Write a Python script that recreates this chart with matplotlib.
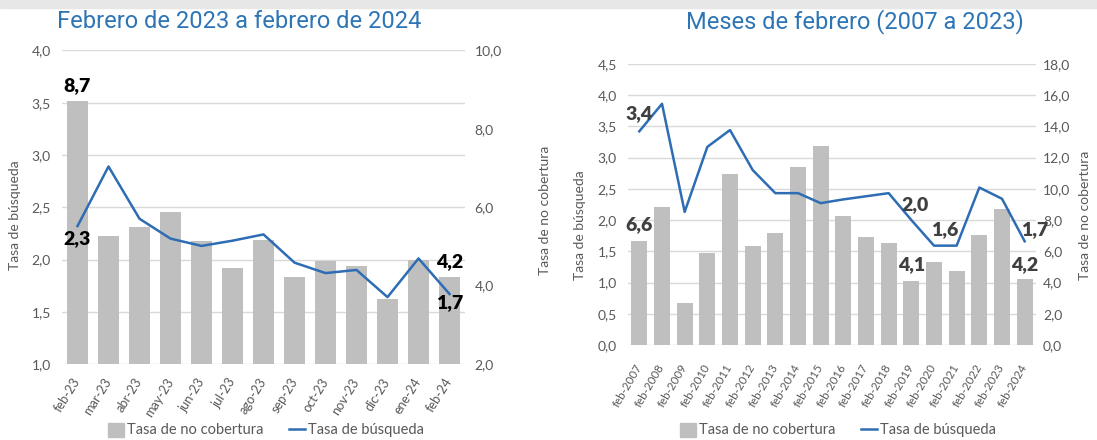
import matplotlib
matplotlib.use('Agg')
import matplotlib.pyplot as plt
from matplotlib.patches import Rectangle, Patch
from matplotlib.lines import Line2D
from matplotlib.ticker import FuncFormatter, MultipleLocator

# Datos: febrero 2023 - febrero 2024
meses = ['feb-23', 'mar-23', 'abr-23', 'may-23', 'jun-23', 'jul-23', 'ago-23',
         'sep-23', 'oct-23', 'nov-23', 'dic-23', 'ene-24', 'feb-24']
busqueda_mes = [2.32, 2.89, 2.39, 2.20, 2.13, 2.18, 2.24, 1.97, 1.87, 1.90, 1.64, 2.01, 1.67]
no_cob_mes = [8.70, 5.26, 5.50, 5.87, 5.14, 4.45, 5.16, 4.22, 4.62, 4.50, 3.67, 4.65, 4.22]

# Datos: meses de febrero 2007 - 2024
anios = ['feb-2007', 'feb-2008', 'feb-2009', 'feb-2010', 'feb-2011', 'feb-2012',
         'feb-2013', 'feb-2014', 'feb-2015', 'feb-2016', 'feb-2017', 'feb-2018',
         'feb-2019', 'feb-2020', 'feb-2021', 'feb-2022', 'feb-2023', 'feb-2024']
busqueda_feb = [3.42, 3.86, 2.13, 3.17, 3.44, 2.80, 2.43, 2.43, 2.27, 2.33, 2.38, 2.43,
                2.00, 1.59, 1.59, 2.52, 2.34, 1.66]
no_cob_feb = [6.64, 8.81, 2.67, 5.87, 10.96, 6.36, 7.19, 11.38, 12.72, 8.23, 6.93, 6.51,
              4.10, 5.32, 4.75, 7.06, 8.72, 4.20]

AZUL = '#2E75B6'
LINEA = '#2E6DB4'
BARRA = '#BFBFBF'
GRIS = '#595959'
FONT = 'Lato'

plt.rcParams['font.family'] = [FONT, 'DejaVu Sans']

coma = FuncFormatter(lambda v, _: f'{v:.1f}'.replace('.', ','))


def panel(rect, cats, linea, barras, ylim_l, paso_l, ylim_r, paso_r, pad_l, pad_r,
          xsize, xrot, xpad):
    ax = fig.add_axes(rect)
    ax.set_xlim(-0.5, len(cats) - 0.5)
    ax.set_ylim(*ylim_l)
    ax.yaxis.set_major_locator(MultipleLocator(paso_l))
    ax.yaxis.set_major_formatter(coma)
    ax.grid(axis='y', color='#D9D9D9', lw=1)
    ax.set_xticks(range(len(cats)))
    ax.set_xticklabels(cats, rotation=xrot, ha='right', va='center', rotation_mode='anchor')
    ax.tick_params(axis='x', length=0, pad=xpad, labelsize=xsize, labelcolor=GRIS)
    ax.tick_params(axis='y', length=0, pad=pad_l, labelsize=10, labelcolor=GRIS)
    for s in ax.spines.values():
        s.set_visible(False)

    axb = ax.twinx()
    axb.set_ylim(*ylim_r)
    axb.yaxis.set_major_locator(MultipleLocator(paso_r))
    axb.yaxis.set_major_formatter(coma)
    axb.tick_params(axis='y', length=0, pad=pad_r, labelsize=10, labelcolor=GRIS)
    for s in axb.spines.values():
        s.set_visible(False)
    axb.bar(range(len(cats)), barras, width=0.7, color=BARRA)

    axl = fig.add_axes(rect, sharex=ax, sharey=ax)
    axl.patch.set_visible(False)
    axl.axis('off')
    axl.plot(range(len(cats)), linea, color=LINEA, lw=1.8)
    return axb, axl


def etiqueta(axe, x, y, txt, dx, dy, color):
    axe.annotate(txt, (x, y), xytext=(dx, dy), textcoords='offset points',
                 ha='center', va='center', fontsize=14, fontweight='heavy', color=color)


fig = plt.figure(figsize=(10.97, 4.4), dpi=100)
fig.patches.append(Rectangle((0, 1 - 8 / 440), 1, 8 / 440, transform=fig.transFigure,
                             color='#E7E7E7', zorder=0))

# Panel izquierdo
axb1, axl1 = panel([62 / 1097, 1 - 364 / 440, 403 / 1097, 313.5 / 440], meses,
                   busqueda_mes, no_cob_mes, (1.0, 4.0), 0.5, (2.0, 10.0), 2.0, 8, 7,
                   9.2, 58, 11)
etiqueta(axb1, 0, no_cob_mes[0], '8,7', 0, 11.5, 'black')
etiqueta(axl1, 0, busqueda_mes[0], '2,3', 0, -9, 'black')
etiqueta(axb1, 12, no_cob_mes[12], '4,2', 0, 11, 'black')
etiqueta(axl1, 12, busqueda_mes[12], '1,7', 0, -6, 'black')

# Panel derecho
axb2, axl2 = panel([628 / 1097, 1 - 345 / 440, 408 / 1097, 281.2 / 440], anios,
                   busqueda_feb, no_cob_feb, (0.0, 4.5), 0.5, (0.0, 18.0), 2.0, 8, 5,
                   8.3, 60, 14)
OSC = '#404040'
etiqueta(axl2, 0, busqueda_feb[0], '3,4', 0, 12.7, OSC)
etiqueta(axb2, 0, no_cob_feb[0], '6,6', 0, 11.8, OSC)
etiqueta(axl2, 12, busqueda_feb[12], '2,0', 3, 11, OSC)
etiqueta(axl2, 13, busqueda_feb[13], '1,6', 8, 11.4, OSC)
etiqueta(axb2, 12, no_cob_feb[12], '4,1', 0, 11.5, OSC)
etiqueta(axl2, 17, busqueda_feb[17], '1,7', 7.2, 8.2, OSC)
etiqueta(axb2, 17, no_cob_feb[17], '4,2', 0, 10.4, OSC)

# Titulos
fig.text(239.5 / 1097, 1 - 22 / 440, 'Febrero de 2023 a febrero de 2024', ha='center',
         va='center', fontsize=17, color=AZUL, family='Roboto')
fig.text(855 / 1097, 1 - 22 / 440, 'Meses de febrero (2007 a 2023)', ha='center',
         va='center', fontsize=17, color=AZUL, family='Roboto')

# Etiquetas de ejes
fig.text(15 / 1097, 1 - 215 / 440, 'Tasa de búsqueda', rotation=90, ha='center',
         va='center', fontsize=10, color=GRIS)
fig.text(545 / 1097, 1 - 210 / 440, 'Tasa de no cobertura', rotation=90, ha='center',
         va='center', fontsize=10, color=GRIS)
fig.text(580 / 1097, 1 - 225 / 440, 'Tasa de búsqueda', rotation=90, ha='center',
         va='center', fontsize=10, color=GRIS)
fig.text(1085 / 1097, 1 - 215 / 440, 'Tasa de no cobertura', rotation=90, ha='center',
         va='center', fontsize=10, color=GRIS)

# Leyendas
handles = [Patch(color=BARRA), Line2D([], [], color=LINEA, lw=1.8)]
nombres = ['Tasa de no cobertura', 'Tasa de búsqueda']
for cx in (266, 838):
    fig.legend(handles, nombres, loc='center', bbox_to_anchor=(cx / 1097, 1 - 430 / 440),
               ncol=2, frameon=False, fontsize=10.5, labelcolor=GRIS, handlelength=1.1,
               handleheight=1.1, handletextpad=0.15, columnspacing=1.8)

fig.savefig('out.png', dpi=100)
